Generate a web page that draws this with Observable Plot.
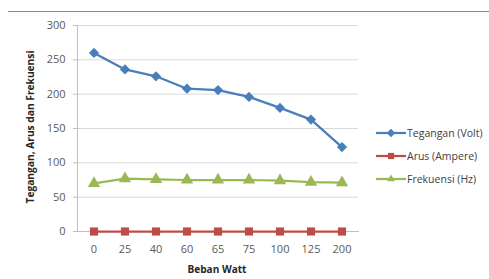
<!DOCTYPE html>
<html><head><meta charset="utf-8">
<script src="https://cdn.jsdelivr.net/npm/d3@7"></script>
<script src="https://cdn.jsdelivr.net/npm/@observablehq/plot@0.6"></script>
<style>
body{margin:0;background:#fff;}
#wrap{position:relative;width:489px;height:279px;overflow:hidden;font-family:"Open Sans",sans-serif;}
#topline{position:absolute;left:8px;top:11px;width:481px;height:0;border-top:1px solid #8c8c8c;}
#legend{position:absolute;left:376px;top:121px;font-size:10.5px;color:#404040;}
#legend div{height:23px;display:flex;align-items:center;white-space:nowrap;}
#legend svg{margin-right:1px;}
</style></head>
<body><div id="wrap"><div id="topline"></div><div id="chart"></div><div id="legend"></div></div>
<script>
const categories = ["0","25","40","60","65","75","100","125","200"];
const tegangan = [260,236,226,208,206,196,180,163,123];
const arus = [0,0,0,0,0,0,0,0,0];
const frekuensi = [70,77,76,75,75,75,74,72,71];
const seriesNames = ["Tegangan (Volt)","Arus (Ampere)","Frekuensi (Hz)"];
const seriesColors = ["#4a7ebb","#be4b48","#98b954"];
const seriesSymbols = ["diamond2","square","triangle"];
const yTicks = [0,50,100,150,200,250,300];

const allSeries = [tegangan, arus, frekuensi];
const data = [];
allSeries.forEach((vals,i)=>vals.forEach((v,j)=>data.push({s:seriesNames[i],x:categories[j],y:v})));

const plot = Plot.plot({
  width: 489, height: 279,
  marginLeft: 77, marginRight: 131, marginTop: 25, marginBottom: 48,
  style: {fontFamily: "'Open Sans', sans-serif", fontSize: "11px", color: "#595959", background: "transparent"},
  x: {type: "band", domain: categories, padding: 0, label: null},
  y: {domain: [0,300], ticks: yTicks, label: null},
  color: {domain: seriesNames, range: seriesColors},
  symbol: {domain: seriesNames, range: seriesSymbols},
  marks: [
    Plot.ruleY(yTicks, {stroke: "#d9d9d9", strokeWidth: 1}),
    Plot.axisX({tickSize: 0, tickPadding: 14, fill: "#595959"}),
    Plot.axisY({tickSize: 4, tickPadding: 8, stroke: "#bfbfbf", fill: "#595959"}),
    Plot.frame({anchor: "left", stroke: "#bfbfbf"}),
    Plot.frame({anchor: "bottom", stroke: "#bfbfbf"}),
    Plot.line(data, {x: "x", y: "y", z: "s", stroke: "s", strokeWidth: 2.25}),
    Plot.dot(data, {x: "x", y: "y", fill: "s", symbol: "s", r: 4.6, stroke: "none"})
  ]
});
document.getElementById("chart").appendChild(plot);

// axis titles
const svg = d3.select(plot);
svg.append("text").attr("x", 217).attr("y", 273).attr("text-anchor","middle")
  .attr("font-weight","bold").attr("font-size","10.5px").attr("fill","#262626")
  .attr("textLength", 59).attr("lengthAdjust","spacingAndGlyphs").text("Beban Watt");
svg.append("text").attr("transform","translate(34,127) rotate(-90)").attr("text-anchor","middle")
  .attr("font-weight","bold").attr("font-size","10.5px").attr("fill","#262626")
  .attr("textLength", 153).attr("lengthAdjust","spacingAndGlyphs").text("Tegangan, Arus dan Frekuensi");

// legend
const leg = document.getElementById("legend");
seriesNames.forEach((n,i)=>{
  const d = document.createElement("div");
  const t = seriesSymbols[i]==="diamond2"?d3.symbolDiamond2:seriesSymbols[i]==="square"?d3.symbolSquare2:d3.symbolTriangle2;
  const sz = seriesSymbols[i]==="diamond2"?45:seriesSymbols[i]==="square"?50:45;
  const sym = d3.symbol(t, sz)();
  d.innerHTML = `<svg width="30" height="10"><line x1="0" x2="30" y1="5" y2="5" stroke="${seriesColors[i]}" stroke-width="2.25"/><path transform="translate(15,5)" d="${sym}" fill="${seriesColors[i]}"/></svg><span>${n}</span>`;
  leg.appendChild(d);
});
</script></body></html>
